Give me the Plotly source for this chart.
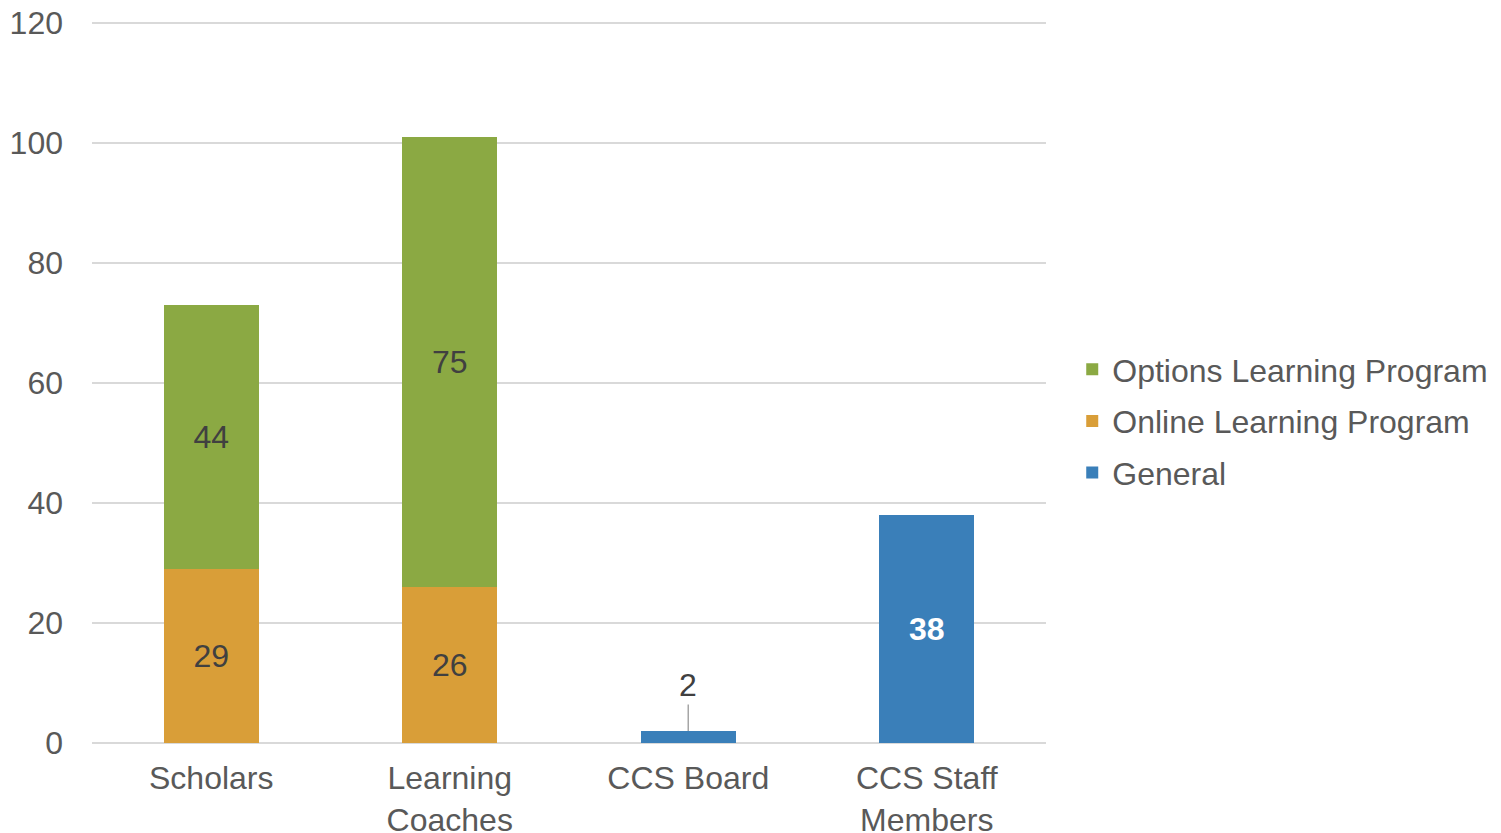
import plotly.graph_objects as go

categories = ["Scholars", "Learning<br>Coaches", "CCS Board", "CCS Staff<br>Members"]
online = [29, 26, None, None]
options = [44, 75, None, None]
general = [None, None, 2, 38]

C_OPT = "#8BA943"
C_ONL = "#D99E38"
C_GEN = "#3A7FB9"
FONT = "Liberation Sans, Arial, sans-serif"
FS = 32

def labels(vals):
    return ["" if v is None else str(v) for v in vals]

gen_text = ["" if (v is None or v < 10) else f"<b>{v}</b>" for v in general]

fig = go.Figure()
fig.add_trace(go.Bar(x=categories, y=online, name="Online Learning Program",
                     marker=dict(color=C_ONL, line=dict(width=0)),
                     text=labels(online), textposition="inside", insidetextanchor="middle",
                     textangle=0, constraintext="none",
                     textfont=dict(color="#404040", size=FS, family=FONT),
                     legendrank=2, legendgroup="b"))
fig.add_trace(go.Bar(x=categories, y=options, name="Options Learning Program",
                     marker=dict(color=C_OPT, line=dict(width=0)),
                     text=labels(options), textposition="inside", insidetextanchor="middle",
                     textangle=0, constraintext="none",
                     textfont=dict(color="#404040", size=FS, family=FONT),
                     legendrank=1, legendgroup="a"))
fig.add_trace(go.Bar(x=categories, y=general, name="General",
                     marker=dict(color=C_GEN, line=dict(width=0)),
                     text=gen_text, textposition="inside", insidetextanchor="middle",
                     textangle=0, constraintext="none",
                     textfont=dict(color="white", size=FS, family=FONT),
                     legendrank=3, legendgroup="c"))

for c, v in zip(categories, general):
    if v is not None and v < 10:
        fig.add_annotation(x=c, y=v, text=str(v), showarrow=True, arrowhead=0,
                           arrowwidth=1.5, arrowcolor="#A6A6A6", ax=0, ay=-46,
                           font=dict(size=FS, color="#404040", family=FONT))

fig.update_layout(
    barmode="stack", bargap=0.6,
    width=1501, height=833,
    margin=dict(l=84, r=463, t=13, b=98),
    plot_bgcolor="white", paper_bgcolor="white",
    font=dict(family=FONT, size=FS, color="#595959"),
    legend=dict(x=1.0275, xanchor="left", y=0.446, yanchor="middle",
                font=dict(size=FS, color="#595959", family=FONT),
                traceorder="grouped", tracegroupgap=7, itemwidth=30),
    uniformtext=dict(mode=False),
)
fig.update_yaxes(range=[0, 120.25], dtick=20, showgrid=True, gridcolor="#D9D9D9", gridwidth=2,
                 zeroline=True, zerolinecolor="#D9D9D9", zerolinewidth=2,
                 showline=False, ticks="", tickfont=dict(size=FS, color="#595959"),
                 ticklabelstandoff=28, automargin=False, ticklabeloverflow="allow")
fig.update_xaxes(showline=False, ticks="", tickfont=dict(size=FS, color="#595959"),
                 ticklabelstandoff=13, automargin=False, ticklabeloverflow="allow")

fig.write_html("out.html")
